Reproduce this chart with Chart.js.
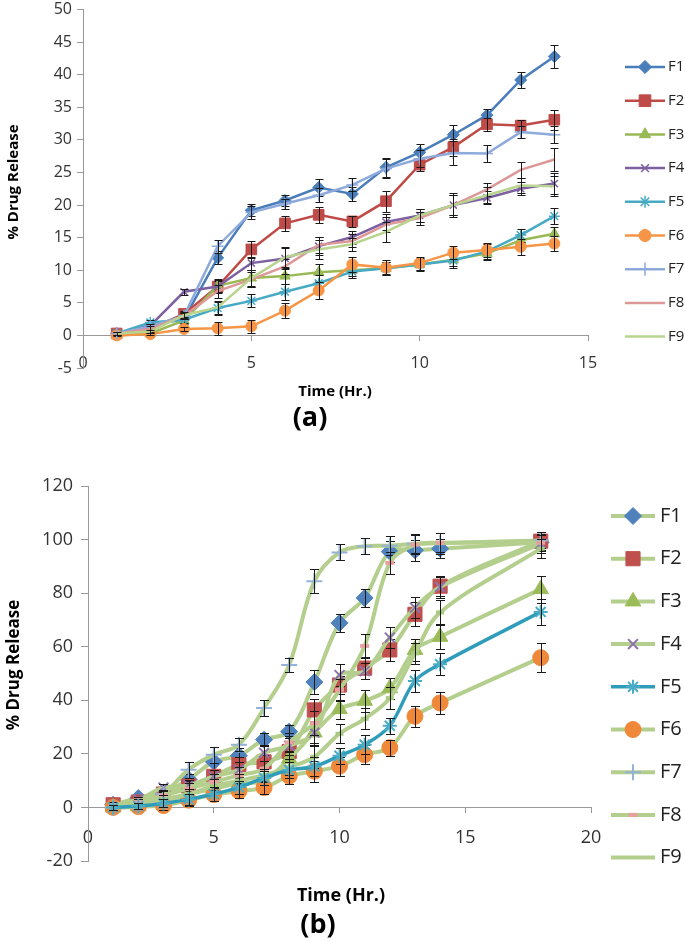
<!DOCTYPE html>
<html>
<head>
<meta charset="utf-8">
<script src="https://cdn.jsdelivr.net/npm/chart.js@4.4.1/dist/chart.umd.min.js"></script>
<style>
body{margin:0;width:685px;height:941px;overflow:hidden;background:#fff;position:relative;font-family:"Open Sans",sans-serif;}
.box{position:absolute;left:0;width:685px;}
.lbl{position:absolute;font-weight:bold;color:#000;white-space:nowrap;transform:translate(-50%,-50%);}
.rot{transform:translate(-50%,-50%) rotate(-90deg);}
</style>
</head>
<body>
<div class="box" style="top:-5px;height:465px"><canvas id="chartA"></canvas></div>
<div class="box" style="top:460px;height:481px"><canvas id="chartB"></canvas></div>
<div class="lbl rot" style="left:12px;top:182px;font-size:15px">% Drug Release</div>
<div class="lbl" style="left:335px;top:390px;font-size:15px">Time (Hr.)</div>
<div class="lbl" style="left:310px;top:415px;font-size:27px">(a)</div>
<div class="lbl rot" style="left:12px;top:665px;font-size:17px">% Drug Release</div>
<div class="lbl" style="left:341px;top:894px;font-size:18px">Time (Hr.)</div>
<div class="lbl" style="left:318px;top:922px;font-size:27px">(b)</div>
<script>
var names = ['F1','F2','F3','F4','F5','F6','F7','F8','F9'];

// (a) time points and % release
var timeA = [1,2,3,4,5,6,7,8,9,10,11,12,13,14];
var a_F1 = [0.3,1.5,2.5,11.9,19.2,20.7,22.7,21.7,25.8,28.1,30.8,33.8,39.2,42.8];
var a_F2 = [0.3,1.0,3.3,7.5,13.2,17.2,18.5,17.5,20.6,26.2,28.9,32.4,32.2,33.1];
var a_F3 = [0.0,0.3,2.3,7.6,8.8,9.1,9.7,10.0,10.3,10.9,11.6,12.6,14.6,15.6];
var a_F4 = [0.3,1.5,6.7,7.5,11.1,11.8,13.7,15.1,17.4,18.4,20.0,21.1,22.5,23.3];
var a_F5 = [0.3,2.0,2.4,4.2,5.3,6.7,8.0,9.8,10.3,10.9,11.5,12.9,15.4,18.3];
var a_F6 = [0.0,0.2,1.0,1.1,1.4,3.8,6.9,10.9,10.4,11.1,12.7,13.1,13.6,14.1];
var a_F7 = [0.3,1.4,3.0,13.7,18.9,20.2,21.5,23.1,25.6,27.1,28.0,27.9,31.2,30.8];
var a_F8 = [0.3,1.0,3.0,6.8,8.6,10.6,13.9,14.5,17.0,18.0,20.0,22.4,25.4,27.0];
var a_F9 = [0.3,0.6,3.1,4.3,8.8,12.0,13.2,14.0,15.9,18.4,20.0,21.5,23.0,22.9];
// (a) error (+/-)
var a_F1_err = [0.2,0.4,0.5,1.0,0.9,0.8,1.3,1.0,1.5,1.3,1.5,0.9,1.3,1.8];
var a_F2_err = [0.2,0.4,0.5,0.9,1.3,1.2,1.2,0.9,1.6,1.0,1.3,1.0,0.9,1.5];
var a_F3_err = [0.1,0.3,0.5,1.0,1.3,1.2,1.3,0.9,0.9,1.0,1.0,1.0,1.0,1.1];
var a_F4_err = [0.2,0.4,0.5,1.0,1.0,1.6,1.4,1.0,1.2,1.0,1.8,1.0,1.0,1.6];
var a_F5_err = [0.2,0.3,0.5,1.0,1.0,1.2,1.2,1.0,1.0,0.9,1.2,1.2,1.0,1.2];
var a_F6_err = [0.1,0.2,0.3,1.0,1.0,1.2,1.3,1.1,1.2,1.0,1.0,1.1,1.2,1.2];
var a_F7_err = [0.2,0.4,0.5,1.0,1.0,0.8,1.1,1.0,1.5,1.3,1.8,1.3,0.9,1.3];
var a_F8_err = [0.2,0.4,0.5,1.0,1.1,1.2,1.2,1.0,1.2,1.0,1.5,1.0,1.2,1.8];
var a_F9_err = [0.2,0.3,0.5,1.0,1.2,1.5,1.5,1.0,1.5,1.0,1.5,1.2,1.2,1.5];

// (b)
var timeB = [1,2,3,4,5,6,7,8,9,10,11,12,13,14,18];
var b_F1 = [1.0,3.5,5.5,10.4,17.1,19.3,25.3,28.3,46.8,68.9,78.2,95.5,96.0,96.6,99.0];
var b_F2 = [1.0,2.0,5.0,8.0,11.6,16.0,17.0,20.9,36.4,45.7,52.0,58.8,72.1,82.6,99.4];
var b_F3 = [0.0,0.5,2.0,5.0,7.0,9.0,10.0,18.2,28.0,36.7,39.8,44.5,58.8,63.7,81.5];
var b_F4 = [1.0,3.0,7.4,8.3,11.6,14.0,20.4,23.0,27.9,49.4,50.9,63.4,74.6,82.3,98.5];
var b_F5 = [0.0,0.5,1.5,3.0,5.0,7.5,11.0,14.0,15.3,19.3,23.4,30.5,47.2,53.5,73.0];
var b_F6 = [0.0,0.3,0.7,2.7,4.8,6.1,7.4,11.7,13.5,15.4,19.7,22.3,34.0,39.0,55.9];
var b_F7 = [0.0,0.5,5.0,14.1,19.7,23.4,37.1,53.2,84.4,95.2,97.5,97.7,98.4,98.6,99.7];
var b_F8 = [1.0,2.0,4.5,7.0,9.5,12.0,14.5,24.3,31.5,43.9,60.3,91.3,98.1,98.8,98.8];
var b_F9 = [0.0,0.5,3.0,5.0,8.0,10.0,12.0,15.0,18.9,27.5,33.1,40.8,57.5,72.8,96.6];
var b_F1_err = [1,1,1.5,2,3,3,2.5,2.5,4.5,3.5,3.5,4,4,3.5,3];
var b_F2_err = [1,1,1.5,2,2.5,3,2.5,3,4,3.5,4,4,4.5,3.5,3.5];
var b_F3_err = [1,1,1.5,2,2.5,2.5,2.5,3,4,3.5,4,4,4,4.5,5];
var b_F4_err = [1,1,1.5,2,2.5,3,3,3.5,4.5,4,3,4,4,4,3.5];
var b_F5_err = [1,1,1.5,2,2.5,2.5,2.5,3,3.5,3,3.5,3,4,4,5];
var b_F6_err = [1,1,1.5,2,2.5,2.5,2.5,3,4,3.5,3.5,3,4,4,5.5];
var b_F7_err = [1,1,1.5,3,3,2.5,3,2.5,4.5,3,3,3.5,3.5,4,3];
var b_F8_err = [1,1,1.5,2,3,3,3,3.5,4.5,4,4.5,4,3.5,3.5,3];
var b_F9_err = [1,1,1.5,2,2.5,2.5,2.5,3,4,3.5,4,4,4,4.5,3.5];

function pts(t, v){
	return t.map(function(x, i){ return {x: x, y: v[i]}; });
}

var errorBars = {
	id: 'errorBars',
	afterDatasetDraw: function(chart, args){
		var ds = chart.data.datasets[args.index];
		if (!ds.errors) return;
		var ctx = chart.ctx, xs = chart.scales.x, ys = chart.scales.y;
		var cap = chart.options.plugins.errorBars.cap;
		ctx.save();
		ctx.strokeStyle = '#1a1a1a';
		ctx.lineWidth = 1;
		ctx.beginPath();
		ds.data.forEach(function(p, i){
			var x = Math.round(xs.getPixelForValue(p.x)) + 0.5;
			var y1 = Math.round(ys.getPixelForValue(p.y + ds.errors[i])) + 0.5;
			var y2 = Math.round(ys.getPixelForValue(p.y - ds.errors[i])) + 0.5;
			ctx.moveTo(x, y1); ctx.lineTo(x, y2);
			ctx.moveTo(x - cap, y1); ctx.lineTo(x + cap, y1);
			ctx.moveTo(x - cap, y2); ctx.lineTo(x + cap, y2);
		});
		ctx.stroke();
		ctx.restore();
	}
};

var sideLegend = {
	id: 'sideLegend',
	afterDraw: function(chart){
		var o = chart.options.plugins.sideLegend;
		var ctx = chart.ctx;
		ctx.save();
		chart.data.datasets.forEach(function(ds, i){
			var y = o.y0 + i * o.step;
			ctx.strokeStyle = ds.borderColor;
			ctx.lineWidth = ds.borderWidth;
			ctx.beginPath();
			ctx.moveTo(o.x1, y); ctx.lineTo(o.x2, y);
			ctx.stroke();
			if (ds.pointRadius > 0 && !ds.noLegendMark) {
				ctx.fillStyle = ds.pointBackgroundColor;
				ctx.strokeStyle = ds.pointBorderColor;
				ctx.lineWidth = ds.pointBorderWidth;
				Chart.helpers.drawPoint(ctx, {pointStyle: ds.pointStyle, radius: ds.pointRadius * o.scale, rotation: 0, borderWidth: ds.pointBorderWidth}, (o.x1 + o.x2) / 2, y);
			}
			ctx.fillStyle = '#222';
			ctx.font = o.font;
			ctx.textBaseline = 'middle';
			ctx.textAlign = 'left';
			ctx.fillText(ds.label, o.textX, y);
		});
		ctx.restore();
	}
};

function makeSet(label, data, err, line, lw, style, r, fill, stroke, bw, tension){
	return {
		label: label, data: data, errors: err,
		showLine: true, borderColor: line, borderWidth: lw, tension: tension,
		pointStyle: style, pointRadius: r, pointHoverRadius: r,
		pointBackgroundColor: fill, pointBorderColor: stroke, pointBorderWidth: bw
	};
}

function axisOpts(min, max, step, size, tick, pad){
	return {
		type: 'linear', min: min, max: max,
		ticks: {stepSize: step, color: '#333', padding: pad, font: {family: 'Open Sans', size: size}},
		grid: {drawOnChartArea: false, drawTicks: true, tickLength: tick, color: '#999'},
		border: {color: '#999', width: 1}
	};
}

window.onload = function start(){
	var setsA = [
		makeSet('F1', pts(timeA, a_F1), a_F1_err, '#4A7EBB', 2.5, 'rectRot', 6, '#4A7EBB', '#4A7EBB', 1, 0),
		makeSet('F2', pts(timeA, a_F2), a_F2_err, '#BE4B48', 2.5, 'rect', 7.5, '#BE4B48', '#BE4B48', 1, 0),
		makeSet('F3', pts(timeA, a_F3), a_F3_err, '#98B954', 2.5, 'triangle', 6, '#98B954', '#98B954', 1, 0),
		makeSet('F4', pts(timeA, a_F4), a_F4_err, '#7D60A0', 2.5, 'crossRot', 5, '#7D60A0', '#7D60A0', 1.5, 0),
		makeSet('F5', pts(timeA, a_F5), a_F5_err, '#46AAC5', 2.5, 'star', 5.5, '#46AAC5', '#46AAC5', 1.5, 0),
		makeSet('F6', pts(timeA, a_F6), a_F6_err, '#F69546', 2.5, 'circle', 5.5, '#F69546', '#F69546', 1, 0),
		makeSet('F7', pts(timeA, a_F7), a_F7_err, '#8EAADB', 2.5, 'cross', 6, '#8EAADB', '#8EAADB', 1.5, 0),
		makeSet('F8', pts(timeA, a_F8), a_F8_err, '#DC9896', 2.5, 'circle', 0, '#DC9896', '#DC9896', 0, 0),
		makeSet('F9', pts(timeA, a_F9), a_F9_err, '#B9D48E', 2.5, 'circle', 0, '#B9D48E', '#B9D48E', 0, 0)
	];
	var green = '#B4CF8D';
	var setsB = [
		makeSet('F1', pts(timeB, b_F1), b_F1_err, green, 4, 'rectRot', 8.5, '#4F81BD', '#4F81BD', 1, 0.35),
		makeSet('F2', pts(timeB, b_F2), b_F2_err, green, 4, 'rect', 10, '#C0504D', '#C0504D', 1, 0.35),
		makeSet('F3', pts(timeB, b_F3), b_F3_err, green, 4, 'triangle', 9, '#9BBB59', '#9BBB59', 1, 0.35),
		makeSet('F4', pts(timeB, b_F4), b_F4_err, green, 4, 'crossRot', 7, '#8064A2', '#8D73AE', 2, 0.35),
		makeSet('F5', pts(timeB, b_F5), b_F5_err, '#2F9DBA', 3.5, 'star', 7, '#4BACC6', '#4BACC6', 2, 0.35),
		makeSet('F6', pts(timeB, b_F6), b_F6_err, green, 4, 'circle', 8, '#F0883A', '#F0883A', 1, 0.35),
		makeSet('F7', pts(timeB, b_F7), b_F7_err, green, 4, 'cross', 8, '#95B3D7', '#95B3D7', 2, 0.35),
		makeSet('F8', pts(timeB, b_F8), b_F8_err, green, 4, 'line', 4.5, '#E6A0A0', '#E6A0A0', 4, 0.35),
		makeSet('F9', pts(timeB, b_F9), b_F9_err, green, 4, 'line', 4, '#A8C880', '#A8C880', 4, 0.35)
	];
	setsB[8].noLegendMark = true;
	setsA.forEach(function(d, i){ d.order = 9 - i; });
	setsB.forEach(function(d, i){ d.order = 9 - i; });
	setsB[4].order = 0;

	var xA = axisOpts(0, 15, 5, 16, 5, 13);
	xA.position = {y: 0};
	var yA = axisOpts(-5, 50, 5, 16, 6, 5);
	yA.position = 'left';
	yA.afterFit = function(s){ s.width = 83; };

	new Chart(document.getElementById('chartA'), {
		type: 'scatter',
		data: {datasets: setsA},
		options: {
			responsive: true, maintainAspectRatio: false, animation: false,
			layout: {padding: {top: 10, bottom: 92, right: 97, left: 0}},
			scales: {x: xA, y: yA},
			plugins: {
				legend: {display: false}, tooltip: {enabled: false},
				errorBars: {cap: 4},
				sideLegend: {x1: 625, x2: 665, textX: 668, y0: 72, step: 33.7, scale: 1.1, font: '15px "Open Sans"'}
			}
		},
		plugins: [errorBars, sideLegend]
	});

	var xB = axisOpts(0, 20, 5, 18, 5, 15);
	xB.position = {y: 0};
	var yB = axisOpts(-20, 120, 20, 18, 7, 8);
	yB.position = 'left';
	yB.afterFit = function(s){ s.width = 88; };

	new Chart(document.getElementById('chartB'), {
		type: 'scatter',
		data: {datasets: setsB},
		options: {
			responsive: true, maintainAspectRatio: false, animation: false,
			layout: {padding: {top: 26, bottom: 80, right: 94, left: 0}},
			scales: {x: xB, y: yB},
			plugins: {
				legend: {display: false}, tooltip: {enabled: false},
				errorBars: {cap: 4.5},
				sideLegend: {x1: 611, x2: 655, textX: 660, y0: 56, step: 42.7, scale: 1, font: '20px "Open Sans"'}
			}
		},
		plugins: [errorBars, sideLegend]
	});
};
</script>
</body>
</html>
